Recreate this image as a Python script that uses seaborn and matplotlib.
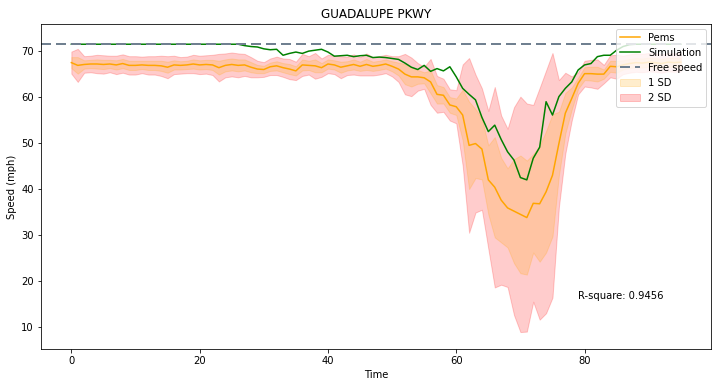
import numpy as np
import pandas as pd
import matplotlib
matplotlib.use("Agg")
import matplotlib.pyplot as plt
import seaborn as sns

# Datos
time = list(range(96))

pems_mean = [
    67.5, 66.9, 67.1, 67.2, 67.2, 67.1, 67.2, 67.0, 67.3, 66.9,
    66.9, 67.0, 66.9, 66.9, 66.8, 66.5, 67.0, 66.9, 67.0, 67.2,
    67.0, 67.1, 67.0, 66.4, 66.9, 67.1, 66.9, 67.0, 66.5, 66.1,
    66.0, 66.6, 66.8, 66.4, 66.1, 65.7, 67.0, 66.9, 66.8, 66.4,
    67.2, 67.0, 66.5, 66.8, 67.1, 66.7, 67.1, 66.7, 66.9, 67.2,
    66.7, 66.1, 65.0, 64.4, 64.4, 64.2, 63.3, 60.6, 60.4, 58.3,
    57.9, 56.1, 49.5, 49.9, 48.7, 42.0, 40.4, 37.6, 35.9, 35.2,
    34.5, 33.8, 36.9, 36.8, 39.4, 43.0, 49.9, 56.5, 59.7, 63.0,
    65.1, 65.1, 65.0, 65.0, 66.7, 66.6, 67.0, 67.3, 67.5, 67.4,
    67.6, 67.5, 67.3, 67.6, 67.5, 67.6,
]

pems_sd = [
    1.2, 1.8, 0.9, 0.9, 1.0, 1.0, 0.9, 1.0, 1.0, 1.0,
    1.0, 0.9, 1.0, 1.0, 1.1, 1.2, 1.0, 0.9, 0.9, 1.0,
    1.0, 1.0, 1.1, 1.5, 1.3, 1.3, 1.3, 1.2, 1.1, 0.9,
    0.8, 0.9, 1.0, 1.0, 1.1, 1.0, 1.2, 1.0, 1.4, 1.0,
    1.0, 1.0, 1.2, 1.0, 1.1, 1.0, 1.2, 1.0, 1.0, 1.0,
    1.1, 1.4, 2.2, 2.1, 1.5, 1.2, 2.5, 2.0, 1.8, 1.7,
    1.8, 5.5, 9.5, 7.5, 6.6, 7.5, 10.9, 9.2, 8.6, 11.3,
    12.8, 12.4, 10.7, 12.6, 13.2, 13.3, 6.9, 4.4, 2.4, 1.2,
    1.4, 1.5, 1.6, 1.0, 1.2, 1.3, 1.0, 1.0, 1.0, 1.0,
    1.0, 1.0, 1.0, 1.0, 1.0, 1.0,
]

simulation = [
    71.5, 71.5, 71.5, 71.5, 71.5, 71.5, 71.5, 71.5, 71.5, 71.5,
    71.5, 71.5, 71.5, 71.5, 71.5, 71.5, 71.5, 71.5, 71.5, 71.5,
    71.5, 71.5, 71.5, 71.5, 71.5, 71.5, 71.5, 71.2, 71.0, 70.9,
    70.5, 70.3, 70.4, 69.1, 69.5, 69.8, 69.5, 70.0, 70.2, 70.4,
    69.8, 68.9, 69.0, 69.1, 68.8, 69.0, 69.1, 68.6, 68.7, 68.6,
    68.4, 68.2, 67.4, 66.5, 66.0, 66.9, 65.6, 66.2, 65.7, 66.6,
    64.4, 61.9, 60.6, 59.4, 55.6, 52.5, 53.9, 50.8, 48.1, 46.3,
    42.5, 42.0, 46.7, 49.1, 59.0, 56.1, 60.1, 61.9, 63.3, 65.9,
    67.0, 67.3, 68.8, 69.1, 69.1, 70.2, 71.0, 71.4, 71.5, 71.5,
    71.5, 71.5, 71.5, 71.5, 71.5, 71.5,
]

free_speed = 71.5
r_square = 0.9456

df = pd.DataFrame({"Time": time, "Pems": pems_mean, "SD": pems_sd,
                   "Simulation": simulation})
df["lo1"] = df["Pems"] - df["SD"]
df["hi1"] = df["Pems"] + df["SD"]
df["lo2"] = df["Pems"] - 2 * df["SD"]
df["hi2"] = df["Pems"] + 2 * df["SD"]

fig, ax = plt.subplots(figsize=(717 / 72, 387 / 72), dpi=72)
fig.subplots_adjust(left=0.057, right=0.992, top=0.938, bottom=0.098)

band2 = ax.fill_between(df["Time"], df["lo2"], df["hi2"], color="red", alpha=0.2, label="2 SD")
band1 = ax.fill_between(df["Time"], df["lo1"], df["hi1"], color="orange", alpha=0.2, label="1 SD")

sns.lineplot(data=df, x="Time", y="Pems", color="orange", label="Pems", ax=ax)
sns.lineplot(data=df, x="Time", y="Simulation", color="green", label="Simulation", ax=ax)
free = ax.axhline(free_speed, color="slategray", linestyle="--", linewidth=2,
                  dashes=(5, 2.5), label="Free speed")

ax.text(79, 16.1, f"R-square: {r_square}", fontsize=10)

ax.set_xlim(-4.75, 99.75)
ax.set_ylim(5.2, 75.9)
ax.set_title("GUADALUPE PKWY")
ax.set_xlabel("Time")
ax.set_ylabel("Speed (mph)")

lines = ax.get_lines()
ax.legend(handles=[lines[0], lines[1], free, band1, band2], loc="upper right")

fig.savefig("out.png", dpi=72)
